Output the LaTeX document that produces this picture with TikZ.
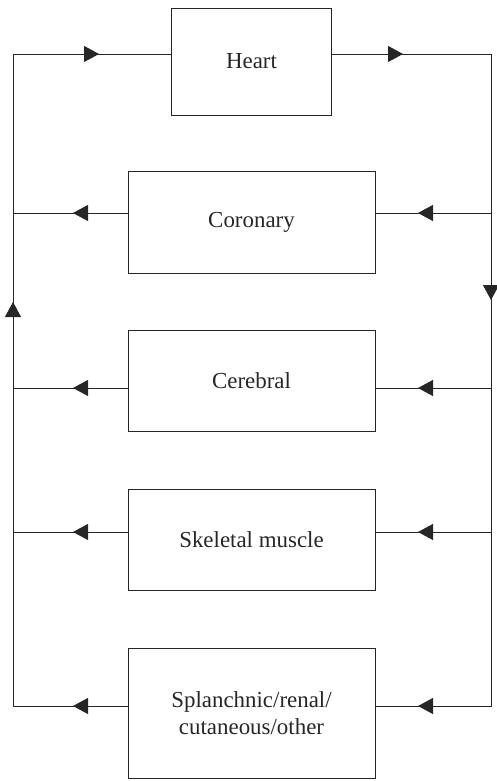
\documentclass[tikz,border=0pt]{standalone}
\usepackage{fontspec}
\setmainfont{Liberation Serif}
\usetikzlibrary{arrows.meta}
\tikzset{organ/.style={draw,minimum width=247bp,minimum height=101bp,inner sep=0pt,align=center,font=\fontsize{23}{27}\selectfont},
flow/.style={-{Triangle[length=15bp,width=16bp]}}}

\begin{document}
\begin{tikzpicture}[x=1bp,y=-1bp,line width=0.9bp,color={black!85}]
\useasboundingbox (0,0) rectangle (497,781);
\node[organ,minimum width=160bp,minimum height=107bp] (H) at (251.5,61.5) {Heart};
\node[organ,minimum height=102bp] (C) at (251.5,222) {Coronary};
\node[organ] (B) at (251.5,380.5) {Cerebral};
\node[organ] (S) at (251.5,539.5) {Skeletal muscle};
\node[organ,minimum height=130bp] (O) at (251.5,713) {Splanchnic/renal/\\cutaneous/other};
\coordinate (L0) at (13,54);
\coordinate (R0) at (491,54);
\coordinate (L1) at (13,213);
\coordinate (R1) at (491,213);
\coordinate (L2) at (13,388);
\coordinate (R2) at (491,388);
\coordinate (L3) at (13,532);
\coordinate (R3) at (491,532);
\coordinate (L4) at (13,706);
\coordinate (R4) at (491,706);
% main loop
\draw (H.west|-L0)--(L0)--(L4)--(O.west|-L4);
\draw (H.east|-R0)--(R0)--(R4)--(O.east|-R4);
\draw (R1)--(C.east|-R1);
\draw (C.west|-L1)--(L1);
\draw (R2)--(B.east|-R2);
\draw (B.west|-L2)--(L2);
\draw (R3)--(S.east|-R3);
\draw (S.west|-L3)--(L3);
% arrow heads
\draw[flow] (L0)--(99,54);
\draw[flow] (H.east|-R0)--(403,54);
\draw[flow] (R0)--(491,300);
\draw[flow] (L4)--(13,302);
\draw[flow] (R1)--(418,213);
\draw[flow] (C.west|-L1)--(73,213);
\draw[flow] (R2)--(418,388);
\draw[flow] (B.west|-L2)--(73,388);
\draw[flow] (R3)--(418,532);
\draw[flow] (S.west|-L3)--(73,532);
\draw[flow] (R4)--(418,706);
\draw[flow] (O.west|-L4)--(73,706);
\end{tikzpicture}
\end{document}
